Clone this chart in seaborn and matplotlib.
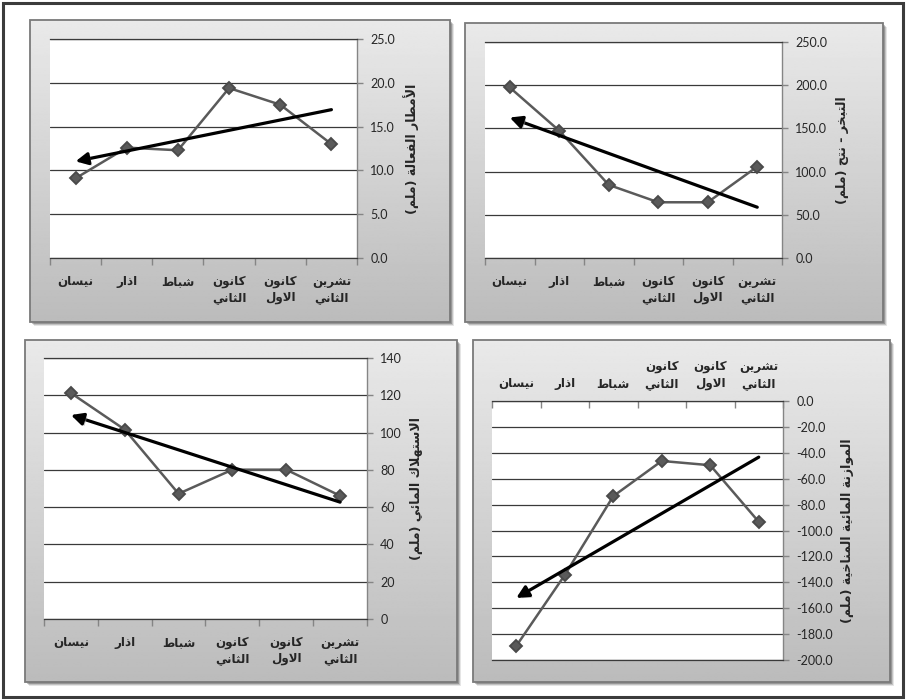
import numpy as np
import pandas as pd
import matplotlib
matplotlib.use("Agg")
import matplotlib.pyplot as plt
import matplotlib.patheffects as pe
from matplotlib.patches import Rectangle
import seaborn as sns

# ---------------------------------------------------------------- data
months = ["تشرين الثاني", "كانون الاول", "كانون الثاني", "شباط", "اذار", "نيسان"]

effective_rain = [13.0, 17.5, 19.4, 12.3, 12.6, 9.1]
evapotranspiration = [105.8, 64.5, 64.5, 84.6, 147.3, 197.4]
water_use = [66.1, 80.1, 80.1, 67.2, 101.6, 121.2]
water_balance = [-93.3, -49.6, -46.3, -73.5, -134.4, -189.2]

label_rain = "الأمطار الفعالة (ملم)"
label_et = "التبخر - نتح (ملم)"
label_use = "الاستهلاك المائي (ملم)"
label_balance = "الموازنة المائية المناخية (ملم)"

# ---------------------------------------------------------------- arabic shaping
# matplotlib has no complex text layout, so letters are mapped to their
# contextual presentation forms and the line is put in visual order.
_FOUR = {"ئ": 0xFE89, "ب": 0xFE8F, "ت": 0xFE95, "ث": 0xFE99, "ج": 0xFE9D,
         "ح": 0xFEA1, "خ": 0xFEA5, "س": 0xFEB1, "ش": 0xFEB5, "ص": 0xFEB9,
         "ض": 0xFEBD, "ط": 0xFEC1, "ظ": 0xFEC5, "ع": 0xFEC9, "غ": 0xFECD,
         "ف": 0xFED1, "ق": 0xFED5, "ك": 0xFED9, "ل": 0xFEDD, "م": 0xFEE1,
         "ن": 0xFEE5, "ه": 0xFEE9, "ي": 0xFEF1}
_TWO = {"آ": 0xFE81, "أ": 0xFE83, "ؤ": 0xFE85, "إ": 0xFE87, "ا": 0xFE8D,
        "ة": 0xFE93, "د": 0xFEA9, "ذ": 0xFEAB, "ر": 0xFEAD, "ز": 0xFEAF,
        "و": 0xFEED, "ى": 0xFEEF}
_LAM_ALEF = {"آ": 0xFEF5, "أ": 0xFEF7, "إ": 0xFEF9, "ا": 0xFEFB}


def _is_letter(c):
    return c in _FOUR or c in _TWO


def _shape_line(text):
    out = []
    i, n = 0, len(text)
    while i < n:
        c = text[i]
        if not _is_letter(c):
            out.append(c)
            i += 1
            continue
        prev = text[i - 1] if i > 0 else ""
        joins_prev = prev in _FOUR
        nxt = text[i + 1] if i + 1 < n else ""
        if c == "ل" and nxt in _LAM_ALEF:
            out.append(chr(_LAM_ALEF[nxt] + (1 if joins_prev else 0)))
            i += 2
            continue
        if c in _FOUR:
            base = _FOUR[c]
            joins_next = _is_letter(nxt)
            if joins_prev and joins_next:
                out.append(chr(base + 3))
            elif joins_prev:
                out.append(chr(base + 1))
            elif joins_next:
                out.append(chr(base + 2))
            else:
                out.append(chr(base))
        else:
            out.append(chr(_TWO[c] + (1 if joins_prev else 0)))
        i += 1
    vis = "".join(reversed(out))
    return vis.translate(str.maketrans("()", ")("))


def ar(text):
    return "\n".join(_shape_line(line) for line in text.split("\n"))


# ---------------------------------------------------------------- style
sns.set_style("white")
plt.rcParams["font.family"] = ["DejaVu Sans"]
plt.rcParams["axes.unicode_minus"] = False

W, H = 906, 700
fig = plt.figure(figsize=(W / 100, H / 100), dpi=100)

NUM_FONT = ["Lato", "DejaVu Sans"]
LINE_GREY = "#5a5a5a"
GRID = "#3a3a3a"
AXIS_GREY = "#858585"


def frac(x0, y0, x1, y1):
    return [x0 / W, 1 - y1 / H, (x1 - x0) / W, (y1 - y0) / H]


# background layer: outer frame, panel shadows and gradient boxes
bg = fig.add_axes([0, 0, 1, 1], zorder=-5)
bg.set_xlim(0, W)
bg.set_ylim(H, 0)
bg.axis("off")
bg.add_patch(Rectangle((3, 3), 900, 694, fill=False, edgecolor="#3c3c3c", lw=2.2))

panels = [
    dict(values=effective_rain, label=label_rain, ylim=(0, 25), step=5, fmt="{:.1f}",
         plot=(50, 39, 357, 258), box=(30, 20, 450, 322), top=False),
    dict(values=evapotranspiration, label=label_et, ylim=(0, 250), step=50, fmt="{:.1f}",
         plot=(485, 42, 782, 258), box=(465, 23, 883, 322), top=False),
    dict(values=water_use, label=label_use, ylim=(0, 140), step=20, fmt="{:.0f}",
         plot=(44, 358, 367, 619), box=(25, 340, 457, 682), top=False),
    dict(values=water_balance, label=label_balance, ylim=(-200, 0), step=20, fmt="{:.1f}",
         plot=(492, 401, 783, 660), box=(473, 340, 890, 682), top=True),
]

grad = np.linspace(0.915, 0.735, 200)[:, None]

for p in panels:
    x0, y0, x1, y1 = p["box"]
    for k, a in zip((4, 3, 2), (0.10, 0.15, 0.22)):
        bg.add_patch(Rectangle((x0 + k, y0 + k), x1 - x0, y1 - y0,
                               facecolor="black", edgecolor="none", alpha=a))
    bg.imshow(grad, extent=(x0, x1, y1, y0), aspect="auto", cmap="gray",
              vmin=0, vmax=1, interpolation="bilinear", zorder=2)
    bg.add_patch(Rectangle((x0, y0), x1 - x0, y1 - y0, fill=False,
                           edgecolor="#7a7a7a", lw=1.3, zorder=3))

# ---------------------------------------------------------------- charts
tick_text = [ar(m.replace(" ", "\n")) for m in months]
positions = np.arange(len(months))

for p in panels:
    ax = fig.add_axes(frac(*p["plot"]))
    ax.set_facecolor("white")
    df = pd.DataFrame({"month": months, "value": p["values"]})
    sns.pointplot(data=df, x="month", y="value", ax=ax, errorbar=None,
                  color=LINE_GREY, marker="D", markersize=6.5, linewidth=1.8,
                  markeredgecolor="#4a4a4a")

    # linear trend drawn as an arrow towards the last month
    slope, intercept = np.polyfit(positions, p["values"], 1)
    y_start = intercept
    y_end = intercept + slope * positions[-1]
    ax.annotate("", xy=(positions[-1], y_end), xytext=(positions[0], y_start),
                arrowprops=dict(arrowstyle="-|>,head_length=0.6,head_width=0.3",
                                color="black", lw=2.3, mutation_scale=12,
                                shrinkA=0, shrinkB=0,
                                path_effects=[pe.SimplePatchShadow(offset=(1.5, -1.5),
                                                                   shadow_rgbFace="#999999",
                                                                   alpha=0.5),
                                              pe.Normal()]),
                zorder=5)

    # categories run right-to-left, value axis on the right
    ax.set_xlim(len(months) - 0.5, -0.5)
    lo, hi = p["ylim"]
    ax.set_ylim(lo, hi)
    yt = np.arange(lo, hi + p["step"] / 2, p["step"])
    ax.set_yticks(yt, labels=[p["fmt"].format(v) for v in yt])
    ax.yaxis.tick_right()
    ax.yaxis.set_label_position("right")
    ax.tick_params(axis="y", which="major", direction="out", length=4.5, width=1,
                   color=AXIS_GREY, pad=5, labelsize=9, right=True, left=False)
    for t in ax.get_yticklabels():
        t.set_family(NUM_FONT)

    ax.set_xticks(positions, labels=tick_text)
    ax.set_xticks(np.arange(-0.5, len(months), 1.0), minor=True)
    if p["top"]:
        ax.xaxis.tick_top()
        ax.tick_params(axis="x", which="major", length=0, pad=8, labelsize=8.6,
                       top=True, bottom=False, labeltop=True, labelbottom=False)
        ax.tick_params(axis="x", which="minor", length=5, width=1, color=AXIS_GREY,
                       direction="in", top=True, bottom=False)
    else:
        ax.tick_params(axis="x", which="major", length=0, pad=12, labelsize=8.6,
                       bottom=True, top=False)
        ax.tick_params(axis="x", which="minor", length=5, width=1, color=AXIS_GREY,
                       direction="out", bottom=True, top=False)
    for t in ax.get_xticklabels():
        t.set_fontweight("bold")
        t.set_linespacing(1.35)

    ax.set_xlabel("")
    ax.set_ylabel(ar(p["label"]), fontsize=9, fontweight="bold", labelpad=6,
                  rotation=90)

    ax.yaxis.grid(True, color=GRID, lw=0.9)
    ax.xaxis.grid(False)
    ax.set_axisbelow(True)
    ax.spines["left"].set_visible(False)
    ax.spines["right"].set_color(AXIS_GREY)
    ax.spines["right"].set_linewidth(1.0)
    for side in ("top", "bottom"):
        ax.spines[side].set_color(GRID)
        ax.spines[side].set_linewidth(0.9)

fig.savefig("out.png", dpi=100)
